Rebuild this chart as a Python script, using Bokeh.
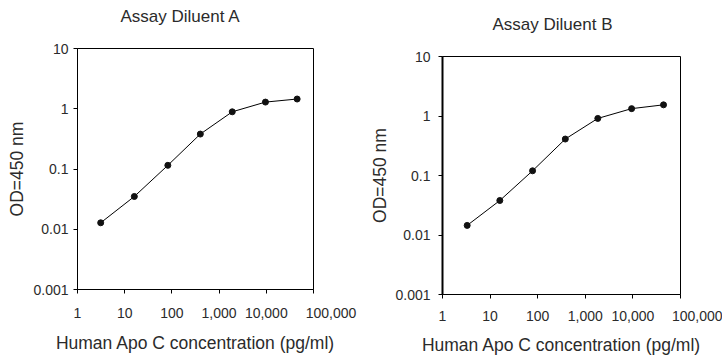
from bokeh.plotting import figure
from bokeh.layouts import row, column
from bokeh.models import FixedTicker, CustomJSTickFormatter, Range1d
from bokeh.embed import file_html
from bokeh.resources import INLINE

# Data
conc_a = [3.1, 16, 82, 400, 1900, 9600, 45000]
od_a = [0.0128, 0.035, 0.115, 0.38, 0.89, 1.29, 1.45]
conc_b = [3.3, 16, 78, 380, 1830, 9400, 44000]
od_b = [0.0145, 0.038, 0.12, 0.41, 0.91, 1.33, 1.54]

x_ticks = [1, 10, 100, 1000, 10000, 100000]
y_ticks = [0.001, 0.01, 0.1, 1, 10]
titles = ["Assay Diluent A", "Assay Diluent B"]
x_label = "Human Apo C concentration (pg/ml)"
y_label = "OD=450 nm"

FONT = "Liberation Sans"
TXT = "#2b2b2b"

def make(conc, od, title, borders, title_off, title_standoff, yaxis_w,
         ylab_so, yax_so, xlab_so, xax_so):
    l, r, t, b = borders
    p = figure(width=361, height=357, x_axis_type="log", y_axis_type="log",
               x_range=Range1d(x_ticks[0], x_ticks[-1]), y_range=Range1d(y_ticks[0], y_ticks[-1]),
               output_backend="svg", toolbar_location=None,
               min_border_left=l, min_border_right=r, min_border_top=t, min_border_bottom=b)
    p.title.text = title + "\n"
    p.title.text_font = FONT
    p.title.text_font_size = "17px"
    p.title.text_font_style = "normal"
    p.title.text_color = TXT
    p.title.align = "left"
    p.title.vertical_align = "bottom"
    p.title.offset = title_off
    p.title.standoff = title_standoff
    p.xgrid.visible = False
    p.ygrid.visible = False
    p.outline_line_color = "black"
    p.outline_line_width = 1
    p.outline_line_alpha = 1
    p.background_fill_color = "white"
    p.border_fill_color = "white"

    p.xaxis.ticker = FixedTicker(ticks=x_ticks)
    p.yaxis.ticker = FixedTicker(ticks=y_ticks)
    # the last x label sits right of its tick in the reference: pad it on the left
    p.xaxis.formatter = CustomJSTickFormatter(
        code="const s = Math.round(tick).toLocaleString('en-US');"
             "return tick >= 99999 ? '\\u00a0'.repeat(9) + s : s;")
    p.yaxis.formatter = CustomJSTickFormatter(
        code="return tick >= 1 ? String(Math.round(tick)) : String(parseFloat(tick.toPrecision(2)));")
    for ax in (p.xaxis, p.yaxis):
        ax.axis_line_color = "black"
        ax.major_tick_line_color = "black"
        ax.minor_tick_line_color = None
        ax.major_tick_in = 0
        ax.major_tick_out = 4
        ax.major_label_text_font = FONT
        ax.major_label_text_font_size = "14px"
        ax.major_label_text_color = TXT
        ax.axis_label_text_font = FONT
        ax.axis_label_text_font_size = "17.5px"
        ax.axis_label_text_font_style = "normal"
        ax.axis_label_text_color = TXT
    p.yaxis.axis_line_width = yaxis_w
    p.xaxis.axis_label = x_label
    p.yaxis.axis_label = y_label
    p.xaxis.major_label_standoff = xlab_so
    p.xaxis.axis_label_standoff = xax_so
    p.yaxis.major_label_standoff = ylab_so
    p.yaxis.axis_label_standoff = yax_so

    p.line(conc, od, line_color="black", line_width=1)
    p.scatter(conc, od, size=6, fill_color="#111111", line_color="#111111")
    return p

pa = make(conc_a, od_a, titles[0], (77, 48, 47, 68), 43, 8, 1, 5, 3, 11, 9)
pb = make(conc_b, od_b, titles[1], (81, 42, 56, 63), 50, 8, 2, 8, 2, 9, 8)
lay = row(column(pa), column(pb))
open("out.html", "w").write(file_html(lay, INLINE))
